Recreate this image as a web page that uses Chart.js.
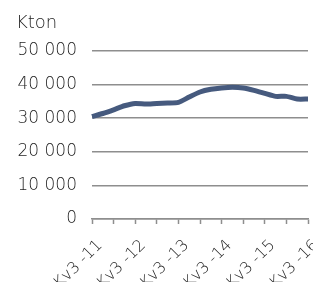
<!DOCTYPE html>
<html>
<head>
<meta charset="utf-8">
<script src="https://cdn.jsdelivr.net/npm/chart.js@4.4.1/dist/chart.umd.min.js"></script>
<style>
  html, body { margin: 0; padding: 0; background: #fff; overflow: hidden; }
  #wrap { width: 313px; height: 282px; }
</style>
</head>
<body>
<div id="wrap"><canvas id="kton"></canvas></div>
<script>
// quarterly labels, Kv3 2011 .. Kv3 2016
const quarters = [
  'Kv3 -11', 'Kv4 -11', 'Kv1 -12', 'Kv2 -12',
  'Kv3 -12', 'Kv4 -12', 'Kv1 -13', 'Kv2 -13',
  'Kv3 -13', 'Kv4 -13', 'Kv1 -14', 'Kv2 -14',
  'Kv3 -14', 'Kv4 -14', 'Kv1 -15', 'Kv2 -15',
  'Kv3 -15', 'Kv4 -15', 'Kv1 -16', 'Kv2 -16',
  'Kv3 -16'
];
// volume in kton
const volume = [
  30500, 31400, 32500, 33700,
  34400, 34200, 34400, 34500,
  34700, 36300, 37800, 38600,
  39000, 39200, 39000, 38300,
  37400, 36500, 36500, 35700,
  35700
];
const yTicks = [0, 10000, 20000, 30000, 40000, 50000];
const unitLabel = 'Kton';

const gridGray = '#8e8e8e';
const textCol = '#1e1e1e';
const fontFam = '"DejaVu Sans", sans-serif';

// unit text in the top left corner
const unitTitle = {
  id: 'unitTitle',
  afterDraw(chart) {
    const c = chart.ctx;
    c.save();
    c.fillStyle = textCol;
    c.font = '300 18px ' + fontFam;
    c.textAlign = 'left';
    c.textBaseline = 'alphabetic';
    c.fillText(unitLabel, 16, 28);
    c.restore();
  }
};

const ctx = document.getElementById('kton').getContext('2d');
new Chart(ctx, {
  type: 'line',
  data: {
    labels: quarters,
    datasets: [{
      data: volume,
      borderColor: '#465a7e',
      borderWidth: 5,
      pointRadius: 0,
      tension: 0.2,
      fill: false
    }]
  },
  options: {
    responsive: true,
    maintainAspectRatio: false,
    animation: false,
    layout: { padding: { left: 0, right: 5, top: 51, bottom: 0 } },
    plugins: {
      legend: { display: false },
      tooltip: { enabled: false },
      title: { display: false }
    },
    scales: {
      x: {
        offset: false,
        grid: {
          drawOnChartArea: false,
          drawTicks: true,
          tickLength: 5,
          tickWidth: 1.5,
          tickColor: (c) => (c.index % 2 === 0 ? gridGray : 'rgba(0,0,0,0)')
        },
        border: { color: gridGray, width: 1.5 },
        ticks: {
          autoSkip: false,
          maxRotation: 45,
          minRotation: 45,
          padding: 12,
          labelOffset: 8,
          color: textCol,
          font: { family: fontFam, size: 16, weight: 300 },
          callback: function (v, i) { return i % 4 === 0 ? quarters[i] : ''; }
        },
        afterFit: (s) => { s.height = 63; s.paddingLeft = 0; s.paddingRight = 0; }
      },
      y: {
        min: 0,
        max: 50000,
        afterBuildTicks: (s) => { s.ticks = yTicks.map(v => ({ value: v })); },
        grid: { color: gridGray, lineWidth: 1.5, drawTicks: false },
        border: { display: false },
        ticks: {
          padding: 15,
          color: textCol,
          font: { family: fontFam, size: 17, weight: 300 },
          callback: (v) => String(v).replace(/\B(?=(\d{3})+(?!\d))/g, ' ')
        },
        afterFit: (s) => { s.width = 92; s.paddingTop = 0; s.paddingBottom = 0; }
      }
    }
  },
  plugins: [unitTitle]
});
</script>
</body>
</html>
